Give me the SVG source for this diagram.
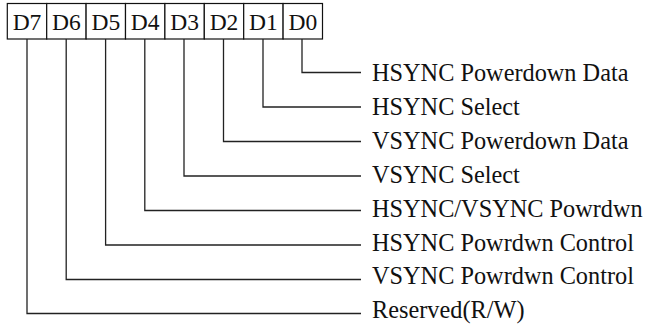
<svg xmlns="http://www.w3.org/2000/svg" width="647" height="325" viewBox="0 0 647 325">
<style>
.cell{fill:#fff;stroke:#111;stroke-width:1.2}
.bit{font-family:"Liberation Serif","Times New Roman",serif;font-size:23.5px;fill:#111;text-anchor:middle}
.lbl{font-family:"Liberation Serif","Times New Roman",serif;font-size:24.3px;fill:#111}
.wire{fill:none;stroke:#222;stroke-width:1.3}
</style>
<rect width="647" height="325" fill="#fff"/>
<g id="register">
<g id="bit7"><rect class="cell" x="7.3" y="3.5" width="39.4" height="35.5"/><text class="bit" x="27" y="30">D7</text></g>
<g id="bit6"><rect class="cell" x="46.7" y="3.5" width="39.4" height="35.5"/><text class="bit" x="66.4" y="30">D6</text></g>
<g id="bit5"><rect class="cell" x="86.1" y="3.5" width="39.4" height="35.5"/><text class="bit" x="105.8" y="30">D5</text></g>
<g id="bit4"><rect class="cell" x="125.5" y="3.5" width="39.4" height="35.5"/><text class="bit" x="145.2" y="30">D4</text></g>
<g id="bit3"><rect class="cell" x="164.9" y="3.5" width="39.4" height="35.5"/><text class="bit" x="184.6" y="30">D3</text></g>
<g id="bit2"><rect class="cell" x="204.3" y="3.5" width="39.4" height="35.5"/><text class="bit" x="224" y="30">D2</text></g>
<g id="bit1"><rect class="cell" x="243.7" y="3.5" width="39.4" height="35.5"/><text class="bit" x="263.4" y="30">D1</text></g>
<g id="bit0"><rect class="cell" x="283.1" y="3.5" width="39.4" height="35.5"/><text class="bit" x="302.8" y="30">D0</text></g>
</g>
<g id="connectors">
<polyline class="wire" points="302,39 302,72.5 361,72.5"/>
<polyline class="wire" points="263,39 263,107 361,107"/>
<polyline class="wire" points="223.5,39 223.5,141.5 361,141.5"/>
<polyline class="wire" points="184,39 184,176 361,176"/>
<polyline class="wire" points="144.8,39 144.8,210.5 361,210.5"/>
<polyline class="wire" points="105.6,39 105.6,245 361,245"/>
<polyline class="wire" points="66.2,39 66.2,279.5 361,279.5"/>
<polyline class="wire" points="27,39 27,313.5 361,313.5"/>
</g>
<g id="labels">
<text class="lbl" x="372" y="81">HSYNC Powerdown Data</text>
<text class="lbl" x="372" y="115">HSYNC Select</text>
<text class="lbl" x="372" y="148.8">VSYNC Powerdown Data</text>
<text class="lbl" x="372" y="182.7">VSYNC Select</text>
<text class="lbl" x="372" y="216.6">HSYNC/VSYNC Powrdwn</text>
<text class="lbl" x="372" y="250.5">HSYNC Powrdwn Control</text>
<text class="lbl" x="372" y="284.4">VSYNC Powrdwn Control</text>
<text class="lbl" x="372" y="318.3">Reserved(R/W)</text>
</g>
</svg>
